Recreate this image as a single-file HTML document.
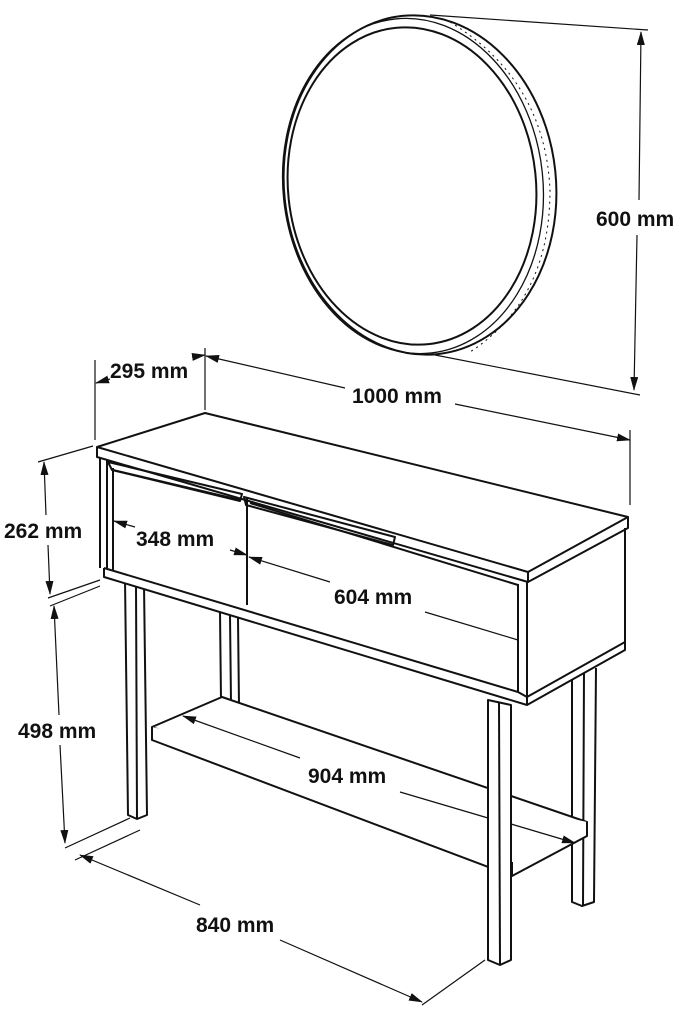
<!DOCTYPE html>
<html><head><meta charset="utf-8"><style>
html,body{margin:0;padding:0;background:#fff}
svg{display:block}
text{font-family:"Liberation Sans",Arial,sans-serif;font-weight:bold;font-size:21px;fill:#111}
</style></head><body>
<svg width="684" height="1020" viewBox="0 0 684 1020" xmlns="http://www.w3.org/2000/svg">
<defs>
<marker id="a" markerWidth="14" markerHeight="8" refX="13" refY="4" orient="auto" markerUnits="userSpaceOnUse">
<path d="M0,0 L14,4 L0,8 z" fill="#111"/></marker>
<marker id="b" markerWidth="14" markerHeight="8" refX="1" refY="4" orient="auto" markerUnits="userSpaceOnUse">
<path d="M14,0 L0,4 L14,8 z" fill="#111"/></marker>
</defs>
<g fill="none" stroke="#111" stroke-width="2" stroke-linejoin="round">
<!-- mirror -->
<ellipse cx="420" cy="185" rx="136" ry="170" transform="rotate(-6 420 185)"/>
<ellipse cx="413" cy="186" rx="130" ry="168" transform="rotate(-6 413 186)" stroke-width="1.3"/>
<ellipse cx="412" cy="186" rx="124" ry="159" transform="rotate(-6 412 186)"/>
<path d="M450,22 Q545,80 550,190 Q550,300 470,352" stroke-width="1" stroke-dasharray="2 4"/>

<!-- back legs (behind) -->
<path d="M220,612 L221,700 M230,615 L231,703 M238,618 L239,705"/>
<path d="M572,672 L572,902 L582,906 L594,902 L596,668 M584,670 L583,906" fill="#fff"/>

<!-- shelf -->
<path d="M152,727 L222,697 L587,822 L512,862 Z" fill="#fff"/>
<path d="M152,727 L152,740 L512,876 L587,836 L587,822 M512,862 L512,876" fill="#fff"/>

<!-- front legs (in front) -->
<path d="M125,580 L128,815 L137,819 L147,815 L144,585 Z" fill="#fff"/>
<path d="M136,583 L137,818"/>
<path d="M488,700 L488,960 L500,965 L511,960 L511,705 Z" fill="#fff"/>
<path d="M499,702 L500,965"/>

<!-- cabinet body fill -->
<path d="M97,457 L528,582 L628,528 L625,650 L527,705 L104,577 Z" fill="#fff" stroke="none"/>
<!-- tabletop -->
<path d="M97,447 L205,413 L628,517 L528,572 Z" fill="#fff"/>
<path d="M97,447 L97,457 L528,582 L628,528 L628,517"/>
<path d="M528,572 L528,582"/>
<!-- cabinet -->
<path d="M100,457 L100,568 M107,459 L107,568"/>
<path d="M104,568 L104,577 L527,705 L625,650 L625,528"/>
<path d="M104,568 L518,692 L527,697 L625,642"/>
<path d="M518,584 L518,692 M527,582 L527,705"/>
<!-- drawers -->
<path d="M113,468 L113,570 M247,498 L247,605"/>
<path d="M113,470 L240,500 M250,503 L518,585"/>
<!-- handles -->
<path d="M108,462 L242,494 L240,501 L112,470 Z"/>
<path d="M244,497 L395,537 L393,545 L246,505 Z"/>

<!-- dimension lines -->
<g stroke-width="1.2">
<path d="M430,15 L648,30 M435,355 L640,395"/>
<path d="M641,32 L639,200" marker-start="url(#b)"/>
<path d="M637,235 L634,390" marker-end="url(#a)"/>
<path d="M95,360 L95,440 M205,348 L205,410"/>
<path d="M96,383 L110,379" marker-start="url(#b)"/>
<path d="M192,357 L205,355" marker-end="url(#a)"/>
<path d="M206,356 L345,388" marker-start="url(#b)"/>
<path d="M455,404 L630,440" marker-end="url(#a)"/>
<path d="M630,430 L630,505"/>
<path d="M38,462 L93,446 M48,598 L100,580"/>
<path d="M44,462 L46,515" marker-start="url(#b)"/>
<path d="M48,545 L50,594" marker-end="url(#a)"/>
<path d="M114,521 L135,527" marker-start="url(#b)"/>
<path d="M230,550 L247,555" marker-end="url(#a)"/>
<path d="M249,557 L330,582" marker-start="url(#b)"/>
<path d="M425,612 L518,640"/>
<path d="M50,606 L100,586 M65,848 L130,818"/>
<path d="M54,606 L59,715" marker-start="url(#b)"/>
<path d="M60,745 L65,843" marker-end="url(#a)"/>
<path d="M183,716 L300,758" marker-start="url(#b)"/>
<path d="M400,792 L488,818"/>
<path d="M511,824 L575,843" marker-end="url(#a)"/>
<path d="M75,860 L140,830"/>
<path d="M80,855 L200,905" marker-start="url(#b)"/>
<path d="M280,940 L422,1002" marker-end="url(#a)"/>
<path d="M422,1005 L485,960"/>
</g>
</g>
<text x="596" y="226">600 mm</text>
<text x="110" y="378">295 mm</text>
<text x="352" y="403">1000 mm</text>
<text x="4" y="538">262 mm</text>
<text x="136" y="546">348 mm</text>
<text x="334" y="604">604 mm</text>
<text x="18" y="738">498 mm</text>
<text x="308" y="783">904 mm</text>
<text x="196" y="932">840 mm</text>
</svg>
</body></html>
